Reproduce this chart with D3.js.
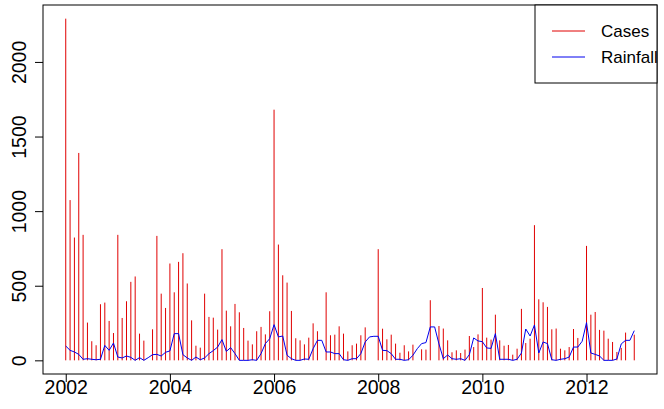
<!DOCTYPE html>
<html>
<head>
<meta charset="utf-8">
<script src="https://cdn.jsdelivr.net/npm/d3@7"></script>
<style>
  body { margin: 0; background: #fff; }
  text { font-family: "Liberation Sans", Arial, Helvetica, sans-serif; }
</style>
</head>
<body>
<script>
// monthly series, Jan 2002 .. Dec 2012
var startYear = 2002;
var cases = [
  2290, 1074, 823, 1390, 841, 253, 128, 101, 376, 387, 264, 183,
  841, 284, 396, 526, 562, 179, 132, 0, 208, 834, 447, 351,
  649, 456, 660, 718, 515, 268, 98, 85, 447, 291, 286, 206,
  745, 333, 228, 378, 322, 217, 132, 107, 195, 224, 174, 329,
  1680, 776, 570, 521, 331, 148, 134, 107, 152, 248, 195, 0,
  456, 168, 172, 228, 179, 60, 101, 112, 168, 221, 0, 0,
  745, 212, 141, 172, 112, 51, 101, 60, 105, 0, 74, 72,
  403, 0, 230, 213, 134, 54, 67, 49, 72, 163, 89, 174,
  485, 152, 139, 306, 134, 98, 103, 38, 78, 345, 116, 145,
  906, 409, 389, 358, 208, 213, 78, 67, 89, 210, 150, 0,
  767, 306, 324, 204, 199, 145, 123, 56, 83, 186, 0, 172
];
var rainfall = [
  96, 67, 56, 40, 7, 11, 7, 4, 7, 100, 67, 116,
  22, 16, 29, 20, 0, 18, 0, 18, 38, 40, 29, 54,
  63, 179, 179, 38, 16, 0, 22, 4, 16, 45, 65, 89,
  139, 60, 85, 45, 0, 0, 0, 4, 0, 45, 112, 145,
  239, 157, 163, 34, 11, 0, 0, 9, 7, 78, 134, 134,
  56, 56, 45, 45, 4, 0, 11, 11, 45, 123, 157, 161,
  161, 67, 65, 45, 7, 7, 0, 4, 34, 78, 112, 119,
  224, 224, 110, 11, 36, 11, 7, 11, 0, 38, 150, 130,
  125, 83, 80, 179, 7, 7, 7, 0, 7, 49, 210, 163,
  237, 49, 123, 112, 4, 0, 7, 11, 22, 89, 89, 128,
  253, 49, 40, 29, 0, 0, 0, 9, 110, 134, 134, 199
];
var yearTicks = [2002, 2004, 2006, 2008, 2010, 2012];
var valueTicks = [0, 500, 1000, 1500, 2000];
var legendLabels = ["Cases", "Rainfall"];

var W = 664, H = 409;
// note: "top" is taken by window.top, so plot edges get their own names
var plotL = 43, plotR = 657, plotT = 5, plotB = 374;
var axisFont = "19.5px";
var legendFont = "17px";

var t = cases.map(function(d, i) { return startYear + i / 12; });

// R style 4% padding on both axes
var tMin = t[0], tMax = t[t.length - 1];
var tPad = (tMax - tMin) * 0.04;
var yMax = d3.max(cases), yMin = 0;
var yPad = (yMax - yMin) * 0.04;

var x = d3.scaleLinear().domain([tMin - tPad, tMax + tPad]).range([plotL, plotR]);
var y = d3.scaleLinear().domain([yMin - yPad, yMax + yPad]).range([plotB, plotT]);

var svg = d3.select("body")
  .append("svg")
  .attr("width", W)
  .attr("height", H);

// cases as vertical lines
svg.append("g")
  .selectAll("line")
  .data(cases)
  .enter()
  .append("line")
  .attr("x1", function(d, i) { return x(t[i]); })
  .attr("x2", function(d, i) { return x(t[i]); })
  .attr("y1", y(0))
  .attr("y2", function(d) { return y(d); })
  .attr("stroke", "#e00000")
  .attr("stroke-width", 1);

// rainfall line
var line = d3.line()
  .x(function(d, i) { return x(t[i]); })
  .y(function(d) { return y(d); });

svg.append("path")
  .datum(rainfall)
  .attr("d", line)
  .attr("fill", "none")
  .attr("stroke", "#0000ee")
  .attr("stroke-width", 1);

// frame
svg.append("rect")
  .attr("x", plotL)
  .attr("y", plotT)
  .attr("width", plotR - plotL)
  .attr("height", plotB - plotT)
  .attr("fill", "none")
  .attr("stroke", "#000")
  .attr("stroke-width", 1);

// x axis
var xAxis = svg.append("g")
  .attr("transform", "translate(0," + plotB + ")")
  .call(d3.axisBottom(x).tickValues(yearTicks).tickSize(8).tickFormat(d3.format("d")));
xAxis.select(".domain").remove();
xAxis.selectAll("line").attr("stroke", "#000");
xAxis.selectAll("text")
  .attr("y", 20)
  .attr("dy", 0)
  .attr("fill", "#000")
  .style("font-size", axisFont);

// y axis, labels turned like base R
var yAxis = svg.append("g")
  .attr("transform", "translate(" + plotL + ",0)")
  .call(d3.axisLeft(y).tickValues(valueTicks).tickSize(8).tickFormat(d3.format("d")));
yAxis.select(".domain").remove();
yAxis.selectAll("line").attr("stroke", "#000");
yAxis.selectAll("text")
  .attr("transform", "rotate(-90)")
  .attr("x", 0)
  .attr("y", -17)
  .attr("dy", 0)
  .attr("fill", "#000")
  .style("text-anchor", "middle")
  .style("font-size", axisFont);

// legend
var lg = svg.append("g");
lg.append("rect")
  .attr("x", 535)
  .attr("y", plotT)
  .attr("width", plotR - 535)
  .attr("height", 78)
  .attr("fill", "#fff")
  .attr("stroke", "#000");

var legendColors = ["#e00000", "#0000ee"];
legendLabels.forEach(function(name, k) {
  var ly = 31 + k * 26;
  lg.append("line")
    .attr("x1", 552).attr("x2", 585)
    .attr("y1", ly).attr("y2", ly)
    .attr("stroke", legendColors[k]);
  lg.append("text")
    .attr("x", 601)
    .attr("y", ly + 6)
    .style("font-size", legendFont)
    .text(name);
});
</script>
</body>
</html>
